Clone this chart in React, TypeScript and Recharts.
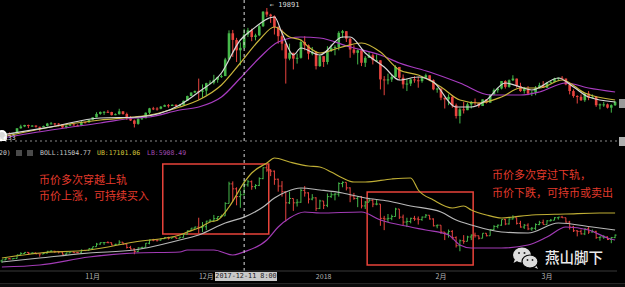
import React from 'react';
import { ComposedChart, Bar, Line, XAxis, YAxis, ReferenceLine, ReferenceArea, ReferenceDot } from 'recharts';

type OHLC = [number, number, number, number];
type Pt = [number, number];

// daily candles [open, high, low, close]
const oct2017: OHLC[] = [
  [4440, 4620, 4133, 4610], [4610, 4880, 4560, 4780], [4780, 4920, 4740, 4770], [4770, 4880, 4750, 4830],
  [4830, 5430, 4820, 5420], [5420, 5850, 5380, 5640], [5640, 5840, 5560, 5820], [5820, 5860, 5440, 5690],
  [5690, 5790, 5600, 5750], [5750, 5770, 5500, 5600], [5600, 5610, 5110, 5560], [5560, 5740, 5550, 5700],
  [5700, 6070, 5630, 5990], [5990, 6180, 5890, 6010], [6010, 6060, 5720, 5980], [5980, 6040, 5650, 5900],
  [5900, 5910, 5460, 5520], [5520, 5750, 5400, 5740], [5740, 5970, 5690, 5890], [5890, 6000, 5730, 5770],
  [5770, 5880, 5690, 5750], [5750, 6300, 5680, 6150], [6150, 6200, 6020, 6130], [6130, 6470, 6090, 6450],
];
const nov2017: OHLC[] = [
  [6450, 6740, 6380, 6740], [6740, 7350, 6740, 7150], [7150, 7450, 7050, 7380], [7380, 7490, 7030, 7400],
  [7400, 7600, 7300, 7380], [7380, 7410, 6960, 7000], [7000, 7210, 6990, 7120], [7120, 7770, 7070, 7460],
  [7460, 7480, 7050, 7140], [7140, 7310, 6440, 6620], [6620, 6880, 6300, 6360], [6360, 6470, 5520, 5950],
  [5950, 6630, 5850, 6550], [6550, 6720, 6430, 6630], [6630, 7330, 6630, 7290], [7290, 7880, 7120, 7820],
  [7820, 8000, 7610, 7800], [7800, 7960, 7550, 7780], [7780, 8100, 7700, 8020], [8020, 8280, 7990, 8200],
  [8200, 8340, 7900, 8100], [8100, 8300, 8100, 8250], [8250, 8300, 8040, 8080], [8080, 8350, 8050, 8240],
  [8240, 8750, 8200, 8730], [8730, 9350, 8720, 9300], [9300, 9740, 9300, 9720], [9720, 9970, 9660, 9900],
  [9900, 11400, 8860, 9810], [9810, 10700, 9100, 9950],
];
const dec2017: OHLC[] = [
  [9950, 10900, 9400, 10850], [10850, 11190, 10700, 10910], [10910, 11850, 10700, 11250], [11250, 11610, 10900, 11590],
  [11590, 11900, 11480, 11700], [11700, 13900, 11700, 13700], [13700, 17200, 13700, 16850], [16850, 17250, 14000, 16050],
  [16050, 16300, 13400, 14800], [14800, 15750, 13000, 15100], [15100, 17400, 15000, 16700], [16700, 17500, 16400, 17200],
  [17200, 17400, 15900, 16400], [16400, 16800, 16000, 16600], [16600, 17900, 16500, 17700], [17700, 19500, 17600, 19450],
  [19450, 19891, 18800, 19100], [19100, 19200, 18100, 18900], [18900, 19000, 16700, 17600], [17600, 17700, 15600, 16500],
  [16500, 17300, 14800, 15600], [15600, 15600, 10800, 13800], [13800, 15600, 13600, 14500], [14500, 14500, 12500, 13800],
  [13800, 14400, 13200, 13900], [13900, 16100, 13800, 15800], [15800, 16500, 14800, 15400], [15400, 15500, 13700, 14400],
  [14400, 15200, 14200, 14600], [14600, 14700, 12500, 12900], [12900, 14300, 12800, 14100],
];
const jan2018: OHLC[] = [
  [14100, 14100, 12800, 13400], [13400, 15300, 13100, 14800], [14800, 15500, 14600, 15100], [15100, 15400, 14200, 15200],
  [15200, 17100, 14800, 16900], [16900, 17250, 16300, 17100], [17100, 17100, 15800, 16200], [16200, 16300, 13900, 14900],
  [14900, 15400, 14300, 14500], [14500, 14900, 13100, 14800], [14800, 14900, 12900, 13300], [13300, 14100, 12800, 13900],
  [13900, 14600, 13900, 14200], [14200, 14400, 13100, 13600], [13600, 14300, 13400, 13600], [13600, 13600, 10100, 11300],
  [11300, 11700, 9400, 11200], [11200, 12000, 10700, 11300], [11300, 11900, 11000, 11600], [11600, 13000, 11600, 12800],
  [12800, 12800, 11200, 11500], [11500, 11900, 10200, 10700], [10700, 11400, 9900, 10800], [10800, 11400, 10500, 11300],
  [11300, 11700, 10900, 11200], [11200, 11600, 10300, 11100], [11100, 11600, 10900, 11500], [11500, 12000, 11400, 11800],
  [11800, 11800, 11100, 11200], [11200, 11300, 10000, 10100], [10100, 10300, 9700, 10200],
];
const feb2018: OHLC[] = [
  [10200, 10200, 8800, 9100], [9100, 9100, 7800, 8900], [8900, 9500, 8200, 9200], [9200, 9400, 7900, 8200],
  [8200, 8400, 6600, 6900], [6900, 7900, 6000, 7700], [7700, 8600, 7200, 7600], [7600, 8500, 7600, 8300],
  [8300, 8700, 7800, 8600], [8600, 9000, 8200, 8500], [8500, 8500, 7900, 8100], [8100, 8900, 8100, 8900],
  [8900, 8900, 8400, 8500], [8500, 9500, 8500, 9500], [9500, 10200, 9400, 10000], [10000, 10300, 9700, 10200],
  [10200, 11100, 10100, 11100], [11100, 11200, 10200, 10400], [10400, 11300, 10300, 11200], [11200, 11800, 11100, 11400],
  [11400, 11400, 10300, 10500], [10500, 10900, 9800, 9900], [9900, 10400, 9600, 10200], [10200, 10500, 9400, 9600],
  [9600, 9900, 9300, 9700], [9700, 10500, 9400, 10300], [10300, 10900, 10200, 10600], [10600, 11100, 10300, 10300],
];
const mar2018: OHLC[] = [
  [10300, 11000, 10300, 10900], [10900, 11200, 10800, 11000], [11000, 11500, 11000, 11400], [11400, 11500, 11100, 11500],
  [11500, 11700, 11400, 11400], [11400, 11400, 10600, 10700], [10700, 10900, 9500, 9900], [9900, 10100, 9100, 9300],
  [9300, 9400, 8400, 9200], [9200, 9500, 8700, 8800], [8800, 9700, 8600, 9600], [9600, 9900, 8800, 9100],
  [9100, 9500, 9000, 9200], [9200, 9300, 8000, 8200], [8200, 8400, 7700, 8300], [8300, 8600, 8000, 8300],
  [8300, 8400, 7800, 7900], [7900, 8300, 7300, 8200], [8200, 8700, 8100, 8600],
];

const months = [
  { prefix: '2017-10', first: 8, bars: oct2017 },
  { prefix: '2017-11', first: 1, bars: nov2017 },
  { prefix: '2017-12', first: 1, bars: dec2017 },
  { prefix: '2018-01', first: 1, bars: jan2018 },
  { prefix: '2018-02', first: 1, bars: feb2018 },
  { prefix: '2018-03', first: 1, bars: mar2018 },
];

// indicator lines, [day index, value]
const maFast: Pt[] = [
  [0, 4614], [13, 5600], [26, 6659], [36, 6779], [47, 8222], [52, 9786], [58, 12072], [63, 16041], [66, 17244],
  [72, 18808], [74, 16883], [77, 14237], [79, 15079], [84, 14237], [90, 16402], [92, 16402], [96, 14477],
  [101, 12794], [105, 11230], [110, 11591], [114, 10989], [120, 7982], [124, 7982], [128, 8824], [133, 10869],
  [137, 10388], [140, 10027], [147, 11470], [151, 10388], [155, 9185], [162, 8583],
];
const maMid: Pt[] = [
  [0, 4373], [13, 5576], [26, 6418], [35, 6779], [39, 7020], [47, 7982], [52, 8824], [58, 10628], [63, 13275],
  [68, 16041], [72, 17605], [76, 16402], [79, 16041], [81, 15199], [84, 14477], [89, 15079], [95, 15680],
  [100, 14598], [105, 12433], [110, 11831], [116, 10388], [121, 8824], [126, 8463], [132, 9185], [137, 10268],
  [142, 10268], [148, 11230], [154, 9666], [162, 8824],
];
const maSlow: Pt[] = [
  [0, 4253], [13, 5215], [26, 6058], [35, 6659], [39, 6779], [47, 7621], [52, 7982], [58, 9185], [63, 11470],
  [68, 13876], [73, 15801], [79, 16402], [84, 16282], [92, 15199], [100, 14237], [105, 13275], [113, 12192],
  [121, 10869], [129, 9425], [137, 9425], [142, 9786], [149, 10869], [155, 10268], [162, 9786],
];
const bollUp: Pt[] = [
  [0, 4915], [10, 5720], [23, 6204], [35, 7492], [47, 8619], [49, 9102], [52, 9746], [55, 10712], [57, 11034],
  [60, 13128], [64, 17101], [66, 18603], [70, 20213], [72, 21018], [76, 20374], [81, 19730], [84, 19569],
  [87, 18764], [90, 17798], [93, 17153], [96, 17153], [103, 17637], [108, 17798], [110, 15865], [114, 14255],
  [119, 12967], [122, 13289], [124, 12645], [128, 11840], [132, 11357], [135, 11518], [140, 11840], [149, 12001],
  [158, 12162], [162, 12162],
];
const bollMid: Pt[] = [
  [0, 4271], [10, 4915], [23, 5720], [35, 6204], [47, 7814], [52, 8619], [59, 10551], [64, 11505], [69, 13128],
  [72, 14577], [75, 15543], [79, 16187], [84, 15865], [90, 15382], [96, 14577], [102, 14094], [108, 13289],
  [116, 12323], [120, 11034], [124, 10229], [132, 9102], [139, 8941], [147, 10551], [156, 9907], [162, 9424],
];
const bollLow: Pt[] = [
  [0, 3466], [10, 3788], [23, 5076], [35, 5720], [47, 5881], [49, 6204], [56, 6204], [61, 5398], [64, 5908],
  [70, 7814], [73, 9907], [76, 11357], [80, 12323], [84, 12162], [95, 12323], [100, 11034], [108, 9907],
  [112, 9424], [118, 8619], [121, 7009], [124, 6526], [132, 6526], [139, 7009], [144, 8297], [149, 9907],
  [155, 9424], [160, 8136], [162, 7814],
];

const monthTicks = ['2017-11-01', '2017-12-01', '2018-01-01', '2018-02-01', '2018-03-01'];
const monthLabels = ['11月', '12月', '2018', '2月', '3月'];

const GREEN = '#46b84a';
const RED = '#e8443f';

const rows: any[] = [];
months.forEach((m) =>
  m.bars.forEach((b, k) => {
    const [open, high, low, close] = b;
    rows.push({ date: `${m.prefix}-${String(m.first + k).padStart(2, '0')}`, open, high, low, close, range: [low, high] });
  })
);
const attach = (pts: Pt[], key: string) => pts.forEach(([i, v]) => { rows[i][key] = v; });
attach(maFast, 'maFast');
attach(maMid, 'maMid');
attach(maSlow, 'maSlow');
attach(bollUp, 'up');
attach(bollMid, 'mid');
attach(bollLow, 'low2');

const geom = (props: any) => {
  const { x, y, width, height, payload } = props;
  const { open, high, low, close } = payload;
  const top = Math.min(y, y + height);
  const h = Math.abs(height);
  const k = h / Math.max(high - low, 1);
  return {
    cx: x + width / 2,
    top,
    bottom: top + h,
    yo: top + (high - open) * k,
    yc: top + (high - close) * k,
    color: close >= open ? GREEN : RED,
  };
};

const Candle = (props: any) => {
  const { cx, top, bottom, yo, yc, color } = geom(props);
  const bt = Math.min(yo, yc);
  const bh = Math.max(Math.abs(yc - yo), 1);
  return (
    <g>
      <line x1={cx} x2={cx} y1={top} y2={bottom} stroke={color} strokeWidth={1} />
      <rect x={cx - 1.3} y={bt} width={2.6} height={bh} fill={color} />
    </g>
  );
};

const OhlcBar = (props: any) => {
  const { cx, top, bottom, yo, yc, color } = geom(props);
  return (
    <g stroke={color} strokeWidth={1}>
      <line x1={cx} x2={cx} y1={top} y2={Math.max(bottom, top + 1)} />
      <line x1={cx - 1.5} x2={cx} y1={yo} y2={yo} />
      <line x1={cx} x2={cx + 1.5} y1={yc} y2={yc} />
    </g>
  );
};

const PeakLabel = (props: any) => {
  const { viewBox } = props;
  return (
    <text x={viewBox.x + 3} y={viewBox.y - 1} fill="#dddddd" fontSize={7} fontFamily="DejaVu Sans Mono">
      ← 19891
    </text>
  );
};

const mono = { fontFamily: '"DejaVu Sans Mono", monospace', fontSize: 6.5, lineHeight: '8px', position: 'absolute' as const, whiteSpace: 'nowrap' as const };
const cjk = { fontFamily: '"Noto Sans CJK SC", sans-serif', position: 'absolute' as const, whiteSpace: 'nowrap' as const };

export default function App() {
  return (
    <div style={{ position: 'absolute', left: 0, top: 0, width: 625, height: 287, background: '#000', overflow: 'hidden' }}>
      <div style={{ position: 'absolute', left: 0, top: 0 }}>
        <ComposedChart width={625} height={142} data={rows} margin={{ top: 0, right: 8, bottom: 1, left: 0 }}>
          <XAxis dataKey="date" hide />
          <YAxis hide domain={[3892, 20853]} allowDataOverflow />
          <ReferenceLine y={3892} stroke="#8a8a8a" strokeDasharray="2 3" />
          <Bar dataKey="range" shape={Candle} isAnimationActive={false} />
          <Line dataKey="maSlow" type="monotone" stroke="#a83cc0" strokeWidth={1.2} dot={false} connectNulls isAnimationActive={false} />
          <Line dataKey="maMid" type="monotone" stroke="#c9b53c" strokeWidth={1.2} dot={false} connectNulls isAnimationActive={false} />
          <Line dataKey="maFast" type="monotone" stroke="#d8d8d8" strokeWidth={1.2} dot={false} connectNulls isAnimationActive={false} />
          <ReferenceLine x="2017-12-11" stroke="#dddddd" strokeDasharray="3 3" />
          <ReferenceDot x="2017-12-17" y={19891} r={0} stroke="none" fill="none" label={<PeakLabel />} />
        </ComposedChart>
      </div>

      <div style={{ position: 'absolute', left: 0, top: 146 }}>
        <ComposedChart width={625} height={141} data={rows} margin={{ top: 4, right: 8, bottom: 0, left: 0 }}>
          <XAxis
            dataKey="date"
            ticks={monthTicks}
            interval={0}
            tickFormatter={(v: string) => monthLabels[monthTicks.indexOf(v)] ?? ''}
            tickLine={false}
            tickSize={0}
            tickMargin={3}
            height={16}
            axisLine={{ stroke: '#383838' }}
            tick={{ fill: '#b4b4b4', fontSize: 7, fontFamily: '"Noto Sans CJK SC", sans-serif' }}
          />
          <YAxis hide domain={[2822, 22306]} allowDataOverflow />
          <Line dataKey="up" type="monotone" stroke="#bfae35" strokeWidth={1.2} dot={false} connectNulls isAnimationActive={false} />
          <Line dataKey="mid" type="monotone" stroke="#b8b8b8" strokeWidth={1.2} dot={false} connectNulls isAnimationActive={false} />
          <Line dataKey="low2" type="monotone" stroke="#a23bb5" strokeWidth={1.2} dot={false} connectNulls isAnimationActive={false} />
          <Bar dataKey="range" shape={OhlcBar} isAnimationActive={false} />
          <ReferenceLine x="2017-12-11" stroke="#dddddd" strokeDasharray="3 3" />
          <ReferenceArea x1="2017-11-20" x2="2017-12-17" y1={8780} y2={20052} fill="none" fillOpacity={0} stroke="#e8433a" strokeWidth={1.5} ifOverflow="visible" />
          <ReferenceArea x1="2018-01-13" x2="2018-02-09" y1={3788} y2={15543} fill="none" fillOpacity={0} stroke="#e8433a" strokeWidth={1.5} ifOverflow="visible" />
        </ComposedChart>
      </div>

      {/* price markers */}
      <div style={{ ...mono, left: 0, top: 134, color: '#dddddd' }}>4133</div>
      <div style={{ position: 'absolute', left: 619, top: 99, width: 6, height: 9, background: '#9a9a9a' }} />
      <div style={{ position: 'absolute', left: 619, top: 137, width: 6, height: 9, background: '#b0b0b0' }} />

      {/* BOLL header */}
      <div style={{ ...mono, left: -1, top: 149, color: '#c8c8c8' }}>20)</div>
      <div style={{ position: 'absolute', left: 16, top: 150, width: 6, height: 6, background: '#4a4a4a' }} />
      <div style={{ position: 'absolute', left: 27, top: 150, width: 6, height: 6, background: '#4a4a4a' }} />
      <div style={{ ...mono, left: 40, top: 149, color: '#c8c8c8' }}>BOLL:11504.77</div>
      <div style={{ ...mono, left: 97, top: 149, color: '#d4c63a' }}>UB:17101.06</div>
      <div style={{ ...mono, left: 147, top: 149, color: '#a04ab0' }}>LB:5908.49</div>

      {/* annotations */}
      <div style={{ ...cjk, left: 39, top: 172, fontSize: 11, lineHeight: '15px', color: '#e33a2c' }}>币价多次穿越上轨</div>
      <div style={{ ...cjk, left: 39, top: 188, fontSize: 11, lineHeight: '15px', color: '#e33a2c' }}>币价上涨，可持续买入</div>
      <div style={{ ...cjk, left: 492, top: 167, fontSize: 11, lineHeight: '15px', color: '#e33a2c' }}>币价多次穿过下轨，</div>
      <div style={{ ...cjk, left: 492, top: 185, fontSize: 11, lineHeight: '15px', color: '#e33a2c' }}>币价下跌，可持币或卖出</div>

      {/* watermark */}
      <svg style={{ position: 'absolute', left: 511, top: 246 }} width={30} height={24}>
        <path d="M4 13 L2.5 17 L7 14.5 Z" fill="#dcdcdc" />
        <ellipse cx={11} cy={9} rx={9} ry={7.5} fill="#dcdcdc" />
        <circle cx={8} cy={7} r={1} fill="#222" />
        <circle cx={13.5} cy={7} r={1} fill="#222" />
        <path d="M25 19 L27 23 L22 20.5 Z" fill="#dcdcdc" />
        <ellipse cx={19} cy={15.5} rx={8} ry={6.5} fill="#dcdcdc" stroke="#000" strokeWidth={1.2} />
        <circle cx={16.5} cy={14} r={0.9} fill="#222" />
        <circle cx={21.5} cy={14} r={0.9} fill="#222" />
      </svg>
      <div style={{ ...cjk, left: 545, top: 248, fontSize: 14.5, lineHeight: '18px', color: '#ececec', fontWeight: 500 }}>燕山脚下</div>

      {/* crosshair date */}
      <div style={{ ...mono, left: 215, top: 272, width: 62, height: 9, lineHeight: '9px', fontSize: 6.8, background: '#c9c9c9', color: '#222', textAlign: 'center' }}>
        2017-12-11 8:00
      </div>
      <div style={{ position: 'absolute', left: 0, top: 283, width: 625, height: 4, background: '#0b0b0b', borderTop: '1px solid #262626' }} />
    </div>
  );
}
